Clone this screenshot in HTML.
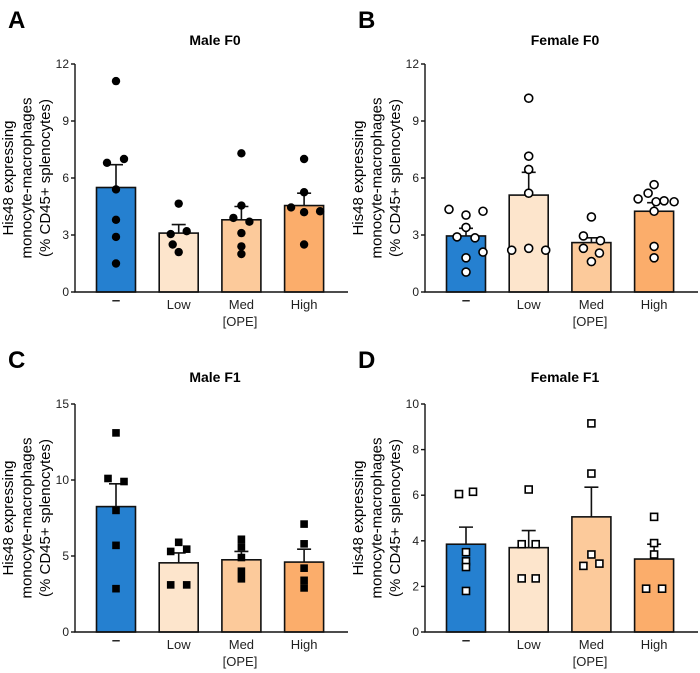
<!DOCTYPE html>
<html><head><meta charset="utf-8">
<style>
html,body{margin:0;padding:0;background:#fff;overflow:hidden;width:700px;height:673px;}
svg{display:block;font-family:"Liberation Sans",Arial,sans-serif;}
</style></head>
<body>
<svg id="fig" width="700" height="673" viewBox="0 0 700 673"></svg>
<script>
const categories = ["–","Low","Med","High"];
const titles = ["Male F0","Female F0","Male F1","Female F1"];
const letters = ["A","B","C","D"];
const yMaxes = [12,12,15,10];
const tickLists = [[0,3,6,9,12],[0,3,6,9,12],[0,5,10,15],[0,2,4,6,8,10]];
const meansA = [5.5,3.1,3.8,4.55];
const semA = [6.7,3.55,4.5,5.2];
const ptsA = [[11.1,6.8,7.0,5.4,3.8,2.9,1.5],[4.65,3.05,3.2,2.5,2.1],[7.3,4.55,3.9,3.7,3.1,2.4,2.0],[7.0,5.25,4.45,4.2,4.25,2.5]];
const meansB = [2.95,5.1,2.6,4.25];
const semB = [3.35,6.3,2.85,4.7];
const ptsB = [[4.35,4.05,4.25,3.4,2.9,2.85,2.1,1.8,1.05],[10.2,7.15,6.45,5.2,2.2,2.3,2.2],[3.95,2.95,2.7,2.3,2.05,1.6],[5.65,4.9,5.2,4.75,4.8,4.75,4.25,2.4,1.8]];
const meansC = [8.25,4.55,4.75,4.6];
const semC = [9.75,5.2,5.3,5.45];
const ptsC = [[13.1,10.1,9.9,8.0,5.7,2.85],[5.9,5.3,5.45,3.1,3.1],[6.1,5.6,4.9,4.0,3.5],[7.1,5.8,4.2,3.4,2.9]];
const meansD = [3.85,3.7,5.05,3.2];
const semD = [4.6,4.45,6.35,3.85];
const ptsD = [[6.05,6.15,3.5,3.1,2.85,1.8],[6.25,3.85,3.85,2.35,2.35],[9.15,6.95,3.4,2.9,3.0],[5.05,3.9,3.4,1.9,1.9]];
const jitA = [[0,-9,8,0,0,0,0],[0,-8,8,-6,0],[0,0,-8,8,0,0,0],[0,0,-13,0,16,0]];
const jitB = [[-17,0,17,0,-9,9,17,0,0],[0,0,0,0,-17,0,17],[0,-8,9,-8,8,0],[0,-16,-6,2,10,20,0,0,0]];
const jitC = [[0,-8,8,0,0,0],[0,-8,8,-8,8],[0,0,0,0,0],[0,0,0,0,0]];
const jitD = [[-7,7,0,0,0,0],[0,-7,7,-7,7],[0,0,0,-8,8],[0,0,0,-8,8]];
const sigLevels = [1,2,3];
const colors = ["#2580d0","#fde5cc","#fcca9b","#fbad6b"];
const panels = [
 {m:meansA,s:semA,p:ptsA,j:jitA,shape:"dot"},
 {m:meansB,s:semB,p:ptsB,j:jitB,shape:"ring"},
 {m:meansC,s:semC,p:ptsC,j:jitC,shape:"sq"},
 {m:meansD,s:semD,p:ptsD,j:jitD,shape:"osq"}];
const NS="http://www.w3.org/2000/svg";
const svg=document.getElementById("fig");
function mk(tag,attrs,parent,text){const e=document.createElementNS(NS,tag);for(const k in attrs)e.setAttribute(k,attrs[k]);if(text!==undefined)e.textContent=text;(parent||svg).appendChild(e);return e;}
panels.forEach((P,pi)=>{
 const ox=(pi%2)*350, oy=pi<2?0:340;
 const g=mk("g",{});
 
 
 const x0=ox+75, yTop=oy+64, yBot=oy+292, xEnd=ox+348;
 const ymax=yMaxes[pi];
 const Y=v=>yBot-(v/ymax)*(yBot-yTop);
 const X=i=>ox+116+i*62.7;
 let t=mk("text",{x:ox+8,y:oy+28,"font-size":24,"font-weight":"bold"},g,letters[pi]);
 
 t=mk("text",{x:ox+215,y:oy+(pi<2?45:42),"font-size":14,"font-weight":"bold","text-anchor":"middle"},g,titles[pi]);
 
 const yl=mk("text",{transform:`translate(${ox+13},${oy+178}) rotate(-90)`,"font-size":15,"text-anchor":"middle"},g);
 
 ["His48 expressing","monocyte-macrophages","(% CD45+ splenocytes)"].forEach((s,k)=>mk("tspan",{x:0,y:k*18.5},yl,s));
 P.m.forEach((v,i)=>{
  const b=mk("rect",{x:X(i)-19.5,y:Y(v),width:39,height:yBot-Y(v),fill:colors[i],stroke:"#111","stroke-width":1.6},g);
  
  
  const e=mk("path",{d:`M${X(i)},${Y(v)}V${Y(P.s[i])}M${X(i)-7},${Y(P.s[i])}H${X(i)+7}`,stroke:"#111","stroke-width":1.6,fill:"none"},g);
  
 });
 P.p.forEach((arr,i)=>arr.forEach((v,k)=>{
  const cx=X(i)+P.j[i][k], cy=Y(v); let e;
  if(P.shape==="dot") e=mk("circle",{cx,cy,r:4.2,fill:"#000"},g);
  else if(P.shape==="ring") e=mk("circle",{cx,cy,r:4,fill:"#fff",stroke:"#000","stroke-width":1.6},g);
  else if(P.shape==="sq") e=mk("rect",{x:cx-3.8,y:cy-3.8,width:7.6,height:7.6,fill:"#000"},g);
  else e=mk("rect",{x:cx-3.5,y:cy-3.5,width:7,height:7,fill:"#fff",stroke:"#000","stroke-width":1.6},g);
  
 }));
 let a=mk("path",{d:`M${x0},${yTop}V${yBot}H${xEnd}`,stroke:"#111","stroke-width":1.4,fill:"none"},g);
 
 tickLists[pi].forEach(tv=>{
  mk("line",{x1:x0-4,x2:x0,y1:Y(tv),y2:Y(tv),stroke:"#111","stroke-width":1.4},g);
  const tl=mk("text",{x:x0-6,y:Y(tv)+4,"font-size":12,"text-anchor":"end",fill:"#222"},g,tv);
  
 });
 categories.forEach((c,i)=>{
  const tl=mk("text",{x:X(i),y:yBot+(i===0?13:17),"font-size":i===0?15:13,"font-weight":i===0?"bold":"normal","text-anchor":"middle",fill:"#222"},g,c);
  
 });
 const xt=mk("text",{x:ox+240,y:oy+326,"font-size":13,"text-anchor":"middle",fill:"#222"},g,"[OPE]");
 
 if(pi===2){
  sigLevels.forEach((lv,k)=>{
   const y=oy+446-k*15.5, x2=X(lv)+16;
   const l=mk("line",{x1:ox+139,x2:x2,y1:y,y2:y,stroke:"#111","stroke-width":1.4},g);
   
   const s=mk("text",{x:(ox+139+x2)/2,y:y-1,"font-size":18,"font-weight":"bold","text-anchor":"middle"},g,"*");
   
  });
 }
});
</script>
</body></html>
